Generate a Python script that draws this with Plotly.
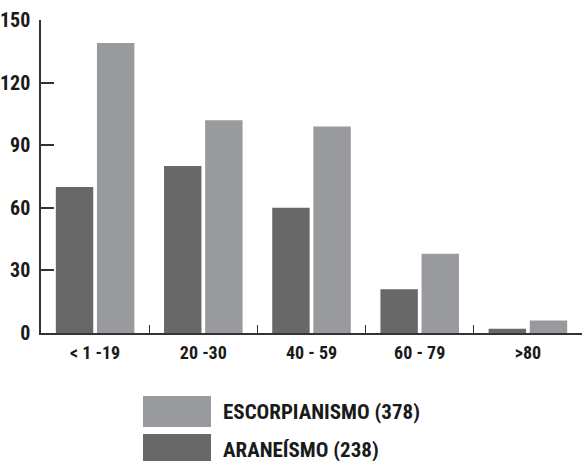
import plotly.graph_objects as go

categories = ["< 1 -19", "20 -30", "40 - 59", "60 - 79", ">80"]
araneismo = [70, 80, 60, 21, 2]
escorpianismo = [139, 102, 99, 38, 6]
series_names = ["ARANEÍSMO (238)", "ESCORPIANISMO (378)"]
y_ticks = [0, 30, 60, 90, 120, 150]

DARK = "#686869"
LIGHT = "#999a9d"
FONT = "Roboto Condensed, DejaVu Sans Condensed, sans-serif"
TXT = "#1a1a1a"

fig = go.Figure()
fig.add_trace(go.Bar(x=categories, y=araneismo, name=series_names[0],
                     marker=dict(color=DARK, line=dict(width=0))))
fig.add_trace(go.Bar(x=categories, y=escorpianismo, name=series_names[1],
                     marker=dict(color=LIGHT, line=dict(width=0))))

W, H = 582, 461
ml, mr, mt, mb = 41, 0, 20, 128
fig.update_layout(
    width=W, height=H,
    margin=dict(l=ml, r=mr, t=mt, b=mb, autoexpand=False),
    paper_bgcolor="white", plot_bgcolor="white",
    barmode="group", bargap=0.24, bargroupgap=0.09,
    showlegend=False,
    font=dict(family=FONT, color=TXT),
)
fig.update_xaxes(
    showline=True, linecolor="#333333", linewidth=1.5,
    ticks="inside", tickson="boundaries", ticklen=8, tickcolor="#333333", tickwidth=1,
    tickfont=dict(family=FONT, size=18, weight="bold", color=TXT),
    showgrid=False, range=[-0.5, 4.5], automargin=False, ticklabelstandoff=3,
)
fig.update_yaxes(
    range=[0, 150], tickvals=y_ticks, showline=True, linecolor="#333333", linewidth=1.5,
    ticks="inside", ticklen=13, tickcolor="#333333", tickwidth=1.5,
    tickfont=dict(family=FONT, size=20, weight="bold", color=TXT),
    showgrid=False, zeroline=False, ticklabelstandoff=5, automargin=False,
)

# custom large-swatch legend
pw, ph = W - ml - mr, H - mt - mb
def px_x(x):
    return (x - ml) / pw
def px_y(y):
    return (H - mb - y) / ph

legend_items = [(series_names[1], LIGHT, 396), (series_names[0], DARK, 434)]
for name, col, top in legend_items:
    fig.add_shape(type="rect", xref="paper", yref="paper",
                  x0=px_x(143), x1=px_x(211), y0=px_y(top), y1=px_y(top + 31),
                  fillcolor=col, line=dict(width=0))
    fig.add_annotation(xref="paper", yref="paper", x=px_x(221), y=px_y(top + 16),
                       text=name, showarrow=False, xanchor="left", yanchor="middle",
                       font=dict(family=FONT, size=21, weight="bold", color=TXT))

fig.write_html("out.html", config={"displayModeBar": False},
               post_script="document.body.style.margin='0';document.body.style.overflow='hidden';")
